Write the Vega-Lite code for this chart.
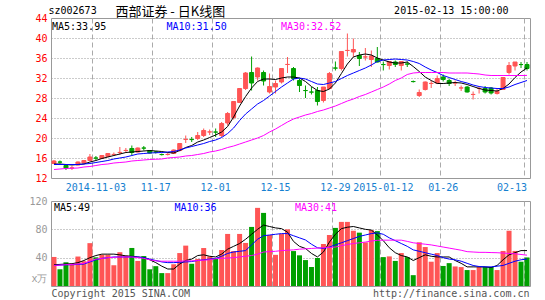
{
  "$schema": "https://vega.github.io/schema/vega-lite/v6.json",
  "background": "#ffffff",
  "padding": {"left": 28, "top": 4, "right": 0, "bottom": 0},
  "title": {"text": "西部证券 - 日K线图", "anchor": "start", "font": "Noto Sans CJK SC", "fontSize": 13, "fontWeight": "normal", "color": "#000000", "offset": -14, "dx": 87},
  "bounds": "flush",
  "spacing": 23,
  "resolve": {"scale": {"color": "independent"}, "legend": {"color": "independent"}},
  "datasets": {
    "k": [
      {"d":"2014-10-23","o":14.9,"h":15.6,"l":14.8,"c":15.4,"v":41,"p5":14.8,"p10":14.7,"p30":13.7,"v5":30,"v10":29,"v30":29},
      {"d":"2014-10-24","o":15.2,"h":15.5,"l":14.9,"c":15.18,"v":23.6,"p5":14.8,"p10":14.7,"p30":13.8,"v5":30.5,"v10":29.5,"v30":29.5},
      {"d":"2014-10-27","o":14.5,"h":14.6,"l":13.6,"c":14.0,"v":33.5,"p5":14.7,"p10":14.7,"p30":13.9,"v5":31,"v10":30,"v30":30},
      {"d":"2014-10-28","o":14.0,"h":14.4,"l":13.6,"c":14.02,"v":31.6,"p5":14.6,"p10":14.7,"p30":13.95,"v5":31.5,"v10":30,"v30":30.5},
      {"d":"2014-10-29","o":14.6,"h":15.3,"l":14.5,"c":15.2,"v":41.6,"p5":14.7,"p10":14.7,"p30":14.0,"v5":33,"v10":30.5,"v30":31},
      {"d":"2014-10-30","o":15.0,"h":15.6,"l":14.9,"c":15.5,"v":35,"p5":14.8,"p10":14.8,"p30":14.2,"v5":36,"v10":31,"v30":32},
      {"d":"2014-10-31","o":15.5,"h":16.8,"l":15.4,"c":16.2,"v":60.5,"p5":15.2,"p10":14.9,"p30":14.3,"v5":40,"v10":34,"v30":35},
      {"d":"2014-11-03","o":16.0,"h":16.4,"l":15.5,"c":15.98,"v":40.5,"p5":15.5,"p10":15.1,"p30":14.5,"v5":43,"v10":37,"v30":38},
      {"d":"2014-11-04","o":15.9,"h":16.6,"l":15.8,"c":16.5,"v":44,"p5":15.9,"p10":15.3,"p30":14.7,"v5":45,"v10":39,"v30":39},
      {"d":"2014-11-05","o":16.3,"h":17.0,"l":16.2,"c":16.9,"v":44,"p5":16.2,"p10":15.5,"p30":14.8,"v5":45,"v10":40,"v30":40},
      {"d":"2014-11-06","o":16.7,"h":17.1,"l":16.4,"c":16.72,"v":29.3,"p5":16.5,"p10":15.8,"p30":15.0,"v5":45,"v10":41,"v30":40.5},
      {"d":"2014-11-07","o":17.1,"h":18.2,"l":16.6,"c":17.12,"v":47.7,"p5":16.8,"p10":16.0,"p30":15.1,"v5":44,"v10":41,"v30":41},
      {"d":"2014-11-10","o":17.5,"h":18.0,"l":17.0,"c":17.52,"v":43,"p5":17.1,"p10":16.2,"p30":15.2,"v5":42.5,"v10":41,"v30":41},
      {"d":"2014-11-11","o":17.9,"h":18.5,"l":16.5,"c":17.1,"v":53.7,"p5":17.2,"p10":16.5,"p30":15.4,"v5":42,"v10":41,"v30":41},
      {"d":"2014-11-12","o":17.2,"h":18.1,"l":17.1,"c":18.0,"v":35.4,"p5":17.3,"p10":16.8,"p30":15.5,"v5":41,"v10":41,"v30":40},
      {"d":"2014-11-13","o":18.0,"h":18.4,"l":17.5,"c":17.98,"v":42.3,"p5":17.4,"p10":16.9,"p30":15.6,"v5":40,"v10":40,"v30":39},
      {"d":"2014-11-14","o":17.5,"h":17.6,"l":16.9,"c":17.0,"v":23.6,"p5":17.5,"p10":17.0,"p30":15.7,"v5":37,"v10":38,"v30":37},
      {"d":"2014-11-17","o":17.2,"h":17.4,"l":16.9,"c":17.18,"v":28,"p5":17.4,"p10":17.05,"p30":15.75,"v5":33,"v10":36,"v30":35.5},
      {"d":"2014-11-18","o":16.7,"h":16.9,"l":16.5,"c":16.68,"v":18.2,"p5":17.3,"p10":17.1,"p30":15.8,"v5":28,"v10":34,"v30":35},
      {"d":"2014-11-19","o":16.7,"h":17.0,"l":16.5,"c":16.72,"v":18.2,"p5":17.1,"p10":17.2,"p30":16.0,"v5":24,"v10":33,"v30":35},
      {"d":"2014-11-20","o":16.9,"h":17.7,"l":16.8,"c":17.6,"v":30.7,"p5":17.0,"p10":17.3,"p30":16.1,"v5":24,"v10":33,"v30":35},
      {"d":"2014-11-21","o":17.5,"h":19.0,"l":17.3,"c":18.9,"v":46.5,"p5":17.5,"p10":17.6,"p30":16.2,"v5":31,"v10":33.5,"v30":35},
      {"d":"2014-11-24","o":19.7,"h":20.5,"l":19.0,"c":19.72,"v":57,"p5":18.1,"p10":18.0,"p30":16.4,"v5":36,"v10":34,"v30":35.5},
      {"d":"2014-11-25","o":19.7,"h":20.2,"l":19.2,"c":19.68,"v":31.4,"p5":18.5,"p10":18.3,"p30":16.5,"v5":38,"v10":34.5,"v30":35.5},
      {"d":"2014-11-26","o":19.9,"h":21.2,"l":19.6,"c":20.5,"v":38.2,"p5":19.2,"p10":18.6,"p30":16.7,"v5":43,"v10":36,"v30":36},
      {"d":"2014-11-27","o":20.5,"h":21.9,"l":20.2,"c":21.5,"v":53.6,"p5":19.6,"p10":18.9,"p30":16.9,"v5":44,"v10":37,"v30":36.5},
      {"d":"2014-11-28","o":21.2,"h":21.7,"l":20.6,"c":21.22,"v":41.8,"p5":20.1,"p10":19.3,"p30":17.2,"v5":42,"v10":38,"v30":37},
      {"d":"2014-12-01","o":21.2,"h":21.9,"l":20.2,"c":21.18,"v":39,"p5":20.6,"p10":19.6,"p30":17.4,"v5":41,"v10":39,"v30":38.5},
      {"d":"2014-12-02","o":20.5,"h":23.2,"l":20.2,"c":22.9,"v":50.8,"p5":21.2,"p10":20.1,"p30":17.7,"v5":45,"v10":42,"v30":39},
      {"d":"2014-12-03","o":23.0,"h":25.2,"l":22.5,"c":24.9,"v":73.5,"p5":22.3,"p10":20.9,"p30":18.1,"v5":52,"v10":46,"v30":39.5},
      {"d":"2014-12-04","o":24.1,"h":27.3,"l":23.7,"c":27.3,"v":49.3,"p5":24.2,"p10":22.0,"p30":18.4,"v5":56,"v10":48,"v30":40},
      {"d":"2014-12-05","o":27.1,"h":29.9,"l":27.0,"c":29.9,"v":73.5,"p5":26.4,"p10":23.5,"p30":18.8,"v5":60,"v10":49,"v30":41},
      {"d":"2014-12-08","o":29.9,"h":33.2,"l":29.6,"c":33.0,"v":60.8,"p5":28.3,"p10":24.8,"p30":19.2,"v5":66,"v10":50,"v30":42},
      {"d":"2014-12-09","o":33.1,"h":36.3,"l":29.5,"c":31.0,"v":83.4,"p5":30.0,"p10":25.8,"p30":19.6,"v5":73,"v10":58,"v30":43},
      {"d":"2014-12-10","o":32.2,"h":34.1,"l":31.5,"c":34.0,"v":110.3,"p5":31.3,"p10":26.8,"p30":20.0,"v5":80,"v10":66,"v30":45},
      {"d":"2014-12-11","o":33.1,"h":33.5,"l":30.5,"c":31.4,"v":103.2,"p5":31.8,"p10":27.5,"p30":20.5,"v5":86,"v10":71,"v30":48},
      {"d":"2014-12-12","o":29.2,"h":32.9,"l":28.9,"c":30.3,"v":72,"p5":31.8,"p10":28.4,"p30":21.2,"v5":84,"v10":72,"v30":48.5},
      {"d":"2014-12-15","o":30.2,"h":31.5,"l":28.9,"c":30.9,"v":44,"p5":31.7,"p10":29.3,"p30":21.8,"v5":82,"v10":73,"v30":49},
      {"d":"2014-12-16","o":31.2,"h":33.9,"l":30.9,"c":33.9,"v":73.5,"p5":32.0,"p10":30.2,"p30":22.5,"v5":81,"v10":74,"v30":50},
      {"d":"2014-12-17","o":34.7,"h":36.2,"l":33.0,"c":34.72,"v":80,"p5":32.2,"p10":31.0,"p30":23.2,"v5":76,"v10":74,"v30":50.5},
      {"d":"2014-12-18","o":33.9,"h":34.2,"l":31.5,"c":31.9,"v":49.3,"p5":32.2,"p10":31.8,"p30":23.8,"v5":63,"v10":71,"v30":51},
      {"d":"2014-12-19","o":31.5,"h":31.9,"l":29.2,"c":30.5,"v":43.3,"p5":32.0,"p10":32.0,"p30":24.2,"v5":56,"v10":68,"v30":52},
      {"d":"2014-12-22","o":29.5,"h":30.5,"l":28.0,"c":29.48,"v":36.6,"p5":31.3,"p10":31.8,"p30":24.6,"v5":53,"v10":65,"v30":52.5},
      {"d":"2014-12-23","o":29.2,"h":30.2,"l":28.7,"c":29.18,"v":26.8,"p5":30.3,"p10":31.3,"p30":24.9,"v5":46,"v10":59,"v30":53},
      {"d":"2014-12-24","o":29.5,"h":30.2,"l":26.5,"c":27.3,"v":39.5,"p5":29.5,"p10":30.8,"p30":25.3,"v5":41,"v10":54,"v30":53.5},
      {"d":"2014-12-25","o":27.5,"h":30.2,"l":27.1,"c":30.2,"v":59.3,"p5":29.3,"p10":30.7,"p30":25.6,"v5":48,"v10":53,"v30":54},
      {"d":"2014-12-26","o":29.9,"h":33.2,"l":29.7,"c":32.9,"v":72,"p5":29.8,"p10":31.0,"p30":26.0,"v5":62,"v10":55,"v30":54.5},
      {"d":"2014-12-29","o":34.0,"h":35.3,"l":33.5,"c":33.98,"v":82,"p5":31.0,"p10":31.3,"p30":26.4,"v5":73,"v10":58,"v30":55},
      {"d":"2014-12-30","o":33.9,"h":37.3,"l":33.5,"c":37.3,"v":90.5,"p5":32.9,"p10":31.9,"p30":26.9,"v5":81,"v10":61,"v30":57},
      {"d":"2014-12-31","o":37.5,"h":40.9,"l":36.3,"c":37.52,"v":90.5,"p5":34.8,"p10":32.5,"p30":27.4,"v5":83,"v10":64,"v30":58.5},
      {"d":"2015-01-05","o":37.2,"h":39.9,"l":36.2,"c":37.7,"v":78,"p5":36.2,"p10":33.0,"p30":27.8,"v5":84,"v10":67,"v30":60},
      {"d":"2015-01-06","o":36.5,"h":37.2,"l":34.4,"c":35.9,"v":75.3,"p5":36.6,"p10":33.5,"p30":28.3,"v5":82,"v10":70,"v30":61},
      {"d":"2015-01-07","o":36.2,"h":38.0,"l":35.5,"c":36.22,"v":61.6,"p5":36.8,"p10":34.0,"p30":28.7,"v5":80,"v10":72,"v30":62},
      {"d":"2015-01-08","o":35.7,"h":37.5,"l":34.2,"c":36.4,"v":79,"p5":36.6,"p10":34.6,"p30":29.2,"v5":79,"v10":74,"v30":63.5},
      {"d":"2015-01-09","o":35.9,"h":38.2,"l":35.1,"c":35.2,"v":77.5,"p5":36.0,"p10":35.3,"p30":29.7,"v5":72,"v10":75,"v30":64.5},
      {"d":"2015-01-12","o":34.7,"h":35.3,"l":33.5,"c":34.68,"v":40.8,"p5":35.6,"p10":35.6,"p30":30.2,"v5":64,"v10":73,"v30":64.7},
      {"d":"2015-01-13","o":34.5,"h":35.4,"l":33.7,"c":35.3,"v":41.8,"p5":35.2,"p10":35.7,"p30":30.8,"v5":54,"v10":68,"v30":64.7},
      {"d":"2015-01-14","o":35.2,"h":35.5,"l":34.2,"c":34.7,"v":35.4,"p5":35.0,"p10":35.8,"p30":31.5,"v5":47,"v10":64,"v30":64.7},
      {"d":"2015-01-15","o":34.5,"h":35.4,"l":33.5,"c":35.3,"v":46.5,"p5":35.0,"p10":35.7,"p30":32.0,"v5":43,"v10":60,"v30":64.7},
      {"d":"2015-01-16","o":34.8,"h":35.3,"l":34.2,"c":34.78,"v":40.8,"p5":35.2,"p10":35.6,"p30":32.7,"v5":41,"v10":56,"v30":63},
      {"d":"2015-01-19","o":31.3,"h":31.5,"l":31.1,"c":31.28,"v":15.3,"p5":34.3,"p10":35.3,"p30":33.0,"v5":36,"v10":51,"v30":61},
      {"d":"2015-01-20","o":28.5,"h":29.7,"l":28.2,"c":29.1,"v":61.7,"p5":33.3,"p10":34.9,"p30":33.1,"v5":40,"v10":49,"v30":60},
      {"d":"2015-01-21","o":29.7,"h":31.3,"l":29.5,"c":31.2,"v":55,"p5":32.2,"p10":34.2,"p30":33.1,"v5":44,"v10":47,"v30":59},
      {"d":"2015-01-22","o":30.9,"h":31.5,"l":30.0,"c":30.92,"v":34.3,"p5":31.5,"p10":33.6,"p30":33.1,"v5":42,"v10":45,"v30":58},
      {"d":"2015-01-23","o":31.0,"h":32.5,"l":30.9,"c":31.9,"v":46.5,"p5":30.9,"p10":33.1,"p30":33.1,"v5":41,"v10":43,"v30":56.5},
      {"d":"2015-01-26","o":32.2,"h":32.7,"l":31.3,"c":31.7,"v":28.3,"p5":30.9,"p10":32.5,"p30":33.1,"v5":41,"v10":40,"v30":55},
      {"d":"2015-01-27","o":31.5,"h":31.9,"l":30.4,"c":30.9,"v":32.3,"p5":31.0,"p10":32.1,"p30":33.0,"v5":41,"v10":38,"v30":53.5},
      {"d":"2015-01-28","o":31.0,"h":31.5,"l":30.4,"c":31.02,"v":27.6,"p5":31.1,"p10":31.7,"p30":33.0,"v5":36,"v10":37,"v30":52},
      {"d":"2015-01-29","o":30.0,"h":30.5,"l":29.4,"c":30.02,"v":26.7,"p5":31.0,"p10":31.3,"p30":33.0,"v5":32,"v10":35,"v30":50.5},
      {"d":"2015-01-30","o":30.2,"h":30.4,"l":29.1,"c":29.2,"v":22.5,"p5":30.7,"p10":31.0,"p30":33.0,"v5":27,"v10":32,"v30":48.5},
      {"d":"2015-02-02","o":28.7,"h":29.3,"l":27.7,"c":28.72,"v":22.5,"p5":30.3,"p10":30.6,"p30":32.9,"v5":27,"v10":29,"v30":48},
      {"d":"2015-02-03","o":29.9,"h":30.2,"l":28.9,"c":29.92,"v":26.7,"p5":29.9,"p10":30.3,"p30":32.8,"v5":27,"v10":27.5,"v30":47.5},
      {"d":"2015-02-04","o":29.9,"h":30.4,"l":28.9,"c":29.2,"v":26.7,"p5":29.6,"p10":30.1,"p30":32.6,"v5":27,"v10":27,"v30":47.5},
      {"d":"2015-02-05","o":30.0,"h":30.2,"l":28.7,"c":29.0,"v":26.7,"p5":29.5,"p10":30.0,"p30":32.5,"v5":26,"v10":27,"v30":47.2},
      {"d":"2015-02-06","o":28.9,"h":29.9,"l":28.7,"c":29.3,"v":22.5,"p5":29.4,"p10":29.9,"p30":32.5,"v5":29,"v10":28,"v30":47},
      {"d":"2015-02-09","o":29.7,"h":32.1,"l":29.6,"c":32.1,"v":49.5,"p5":29.9,"p10":29.9,"p30":32.5,"v5":37,"v10":29,"v30":46.5},
      {"d":"2015-02-10","o":33.1,"h":35.2,"l":32.7,"c":34.5,"v":78,"p5":30.8,"p10":30.2,"p30":32.5,"v5":44,"v10":32,"v30":46},
      {"d":"2015-02-11","o":34.4,"h":35.2,"l":33.5,"c":35.2,"v":49.5,"p5":32.1,"p10":30.7,"p30":32.5,"v5":47,"v10":35,"v30":45.5},
      {"d":"2015-02-12","o":34.7,"h":35.2,"l":34.0,"c":34.68,"v":34.3,"p5":33.2,"p10":31.1,"p30":32.5,"v5":50,"v10":37,"v30":44.5},
      {"d":"2015-02-13","o":34.7,"h":35.2,"l":33.5,"c":33.9,"v":40.3,"p5":34.0,"p10":31.5,"p30":32.52,"v5":50,"v10":38,"v30":43.5}
    ]
  },
  "vconcat": [
    {
      "width": 479,
      "height": 160,
      "data": {"name": "k"},
      "encoding": {
        "x": {
          "field": "d", "type": "ordinal",
          "scale": {"type": "band", "paddingInner": 0, "paddingOuter": 0},
          "axis": {
            "values": ["2014-11-03","2014-11-17","2014-12-01","2014-12-15","2014-12-29","2015-01-12","2015-01-26","2015-02-13"],
            "bandPosition": 0, "grid": true, "gridDash": [5, 3], "gridColor": "#aaaaaa", "gridWidth": 1,
            "ticks": false, "domain": false, "labelAngle": 0, "labelColor": "#1580d0", "labelPadding": 4,
            "labelOverlap": false,
            "labelExpr": "(datum.value == '2014-11-03' || datum.value == '2015-01-12') ? datum.value : substring(datum.value, 5)",
            "labelAlign": {"condition": {"test": "datum.value == '2015-02-13'", "value": "right"}, "value": "center"},
            "title": "2015-02-13 15:00:00", "titleAngle": 0, "titleAlign": "right", "titleBaseline": "middle",
            "titleX": 457, "titleY": -168, "titleColor": "#000000", "titleFontWeight": "normal"
          }
        }
      },
      "layer": [
        {
          "mark": {"type": "rule", "strokeWidth": 1},
          "encoding": {
            "y": {
              "field": "l", "type": "quantitative",
              "scale": {"domain": [12, 44], "nice": false, "zero": false},
              "axis": {
                "values": [12, 16, 20, 24, 28, 32, 36, 40, 44],
                "tickCount": 50, "format": "d",
                "labelOverlap": false,
                "grid": true, "gridDash": [1, 2], "gridColor": "#999999",
                "gridOpacity": {"condition": {"test": "datum.value == 12 || datum.value == 44", "value": 0}, "value": 1},
                "ticks": false, "domain": false, "labelColor": "#ff0000", "labelPadding": 4,
                "title": "sz002673", "titleAngle": 0, "titleAlign": "left", "titleBaseline": "middle",
                "titleX": -3, "titleY": -8, "titleColor": "#000000", "titleFontWeight": "normal"
              }
            },
            "y2": {"field": "h"},
            "color": {"condition": {"test": "datum.c >= datum.o", "value": "#ff5555"}, "value": "#00a000"}
          }
        },
        {
          "mark": {"type": "bar", "size": 4, "strokeWidth": 1},
          "encoding": {
            "y": {"field": "o", "type": "quantitative", "scale": {"domain": [12, 44], "nice": false, "zero": false}},
            "y2": {"field": "c"},
            "fill": {"condition": {"test": "datum.c >= datum.o", "value": "#ff5555"}, "value": "#00a000"},
            "stroke": {"condition": {"test": "datum.c >= datum.o", "value": "#ff5555"}, "value": "#00a000"}
          }
        },
        {
          "transform": [{"fold": ["p5", "p10", "p30"], "as": ["s", "m"]}],
          "mark": {"type": "line", "strokeWidth": 1},
          "encoding": {
            "y": {"field": "m", "type": "quantitative", "scale": {"domain": [12, 44], "nice": false, "zero": false}},
            "color": {
              "field": "s", "type": "nominal",
              "scale": {"domain": ["p5", "p10", "p30"], "range": ["#000000", "#0000ff", "#ff00ff"]},
              "legend": {
                "title": null, "orient": "none", "legendX": -9, "legendY": 4,
                "direction": "horizontal", "columns": 3, "gridAlign": "all",
                "columnPadding": 43.5, "padding": 0,
                "symbolType": "circle", "symbolSize": 1, "symbolOpacity": 0, "symbolStrokeWidth": 0, "labelOffset": 0,
                "labelFont": "DejaVu Sans Mono", "labelFontSize": 10, "labelLimit": 200,
                "labelExpr": "datum.value == 'p5' ? 'MA5:33.95' : datum.value == 'p10' ? 'MA10:31.50' : 'MA30:32.52'",
                "labelColor": {"expr": "datum.value == 'p5' ? '#000000' : datum.value == 'p10' ? '#0000ff' : '#ff00ff'"}
              }
            }
          }
        }
      ]
    },
    {
      "width": 479,
      "height": 85,
      "data": {"name": "k"},
      "encoding": {
        "x": {
          "field": "d", "type": "ordinal",
          "scale": {"type": "band", "paddingInner": 0, "paddingOuter": 0},
          "axis": {
            "values": ["2014-11-03","2014-11-17","2014-12-01","2014-12-15","2014-12-29","2015-01-12","2015-01-26","2015-02-13"],
            "bandPosition": 0, "grid": true, "gridDash": [5, 3], "gridColor": "#aaaaaa", "gridWidth": 1,
            "labels": false, "ticks": false, "domain": false,
            "title": "Copyright 2015 SINA.COM", "titleAngle": 0, "titleAlign": "left", "titleBaseline": "middle",
            "titleX": 0, "titleY": 7, "titleColor": "#555555", "titleFontWeight": "normal"
          }
        }
      },
      "layer": [
        {
          "mark": {"type": "bar", "size": 5},
          "encoding": {
            "y": {
              "field": "v", "type": "quantitative",
              "scale": {"domain": [0, 120], "nice": false},
              "axis": {
                "values": [0, 40, 80, 120],
                "tickCount": 50, "format": "d",
                "labelOverlap": false,
                "grid": true, "gridDash": [1, 2], "gridColor": "#999999",
                "gridOpacity": {"condition": {"test": "datum.value == 0 || datum.value == 120", "value": 0}, "value": 1},
                "ticks": false, "domain": false, "labelColor": "#999999", "labelPadding": 4,
                "labelExpr": "datum.value == 0 ? 'x万' : datum.label",
                "labelOffset": {"condition": {"test": "datum.value == 0", "value": -8}, "value": 0},
                "title": "http://finance.sina.com.cn", "titleAngle": 0, "titleAlign": "right", "titleBaseline": "middle",
                "titleX": 478, "titleY": 92, "titleColor": "#555555", "titleFontWeight": "normal"
              }
            },
            "color": {"condition": {"test": "datum.c >= datum.o", "value": "#ff5555"}, "value": "#00a000"}
          }
        },
        {
          "transform": [{"fold": ["v5", "v10", "v30"], "as": ["s", "m"]}],
          "mark": {"type": "line", "strokeWidth": 1},
          "encoding": {
            "y": {"field": "m", "type": "quantitative", "scale": {"domain": [0, 120], "nice": false}},
            "color": {
              "field": "s", "type": "nominal",
              "scale": {"domain": ["v5", "v10", "v30"], "range": ["#000000", "#0000ff", "#ff00ff"]},
              "legend": {
                "title": null, "orient": "none", "legendX": -7, "legendY": 2,
                "direction": "horizontal", "columns": 3, "gridAlign": "all",
                "columnPadding": 67.5, "padding": 0,
                "symbolType": "circle", "symbolSize": 1, "symbolOpacity": 0, "symbolStrokeWidth": 0, "labelOffset": 0,
                "labelFont": "DejaVu Sans Mono", "labelFontSize": 10, "labelLimit": 200,
                "labelExpr": "datum.value == 'v5' ? 'MA5:49' : datum.value == 'v10' ? 'MA10:36' : 'MA30:41'",
                "labelColor": {"expr": "datum.value == 'v5' ? '#000000' : datum.value == 'v10' ? '#0000ff' : '#ff00ff'"}
              }
            }
          }
        }
      ]
    }
  ],
  "config": {
    "view": {"stroke": "#999999", "strokeWidth": 1},
    "font": "DejaVu Sans Mono",
    "axis": {"labelFont": "DejaVu Sans Mono", "labelFontSize": 10, "titleFont": "DejaVu Sans Mono", "titleFontSize": 10, "titleFontWeight": "normal"}
  }
}
